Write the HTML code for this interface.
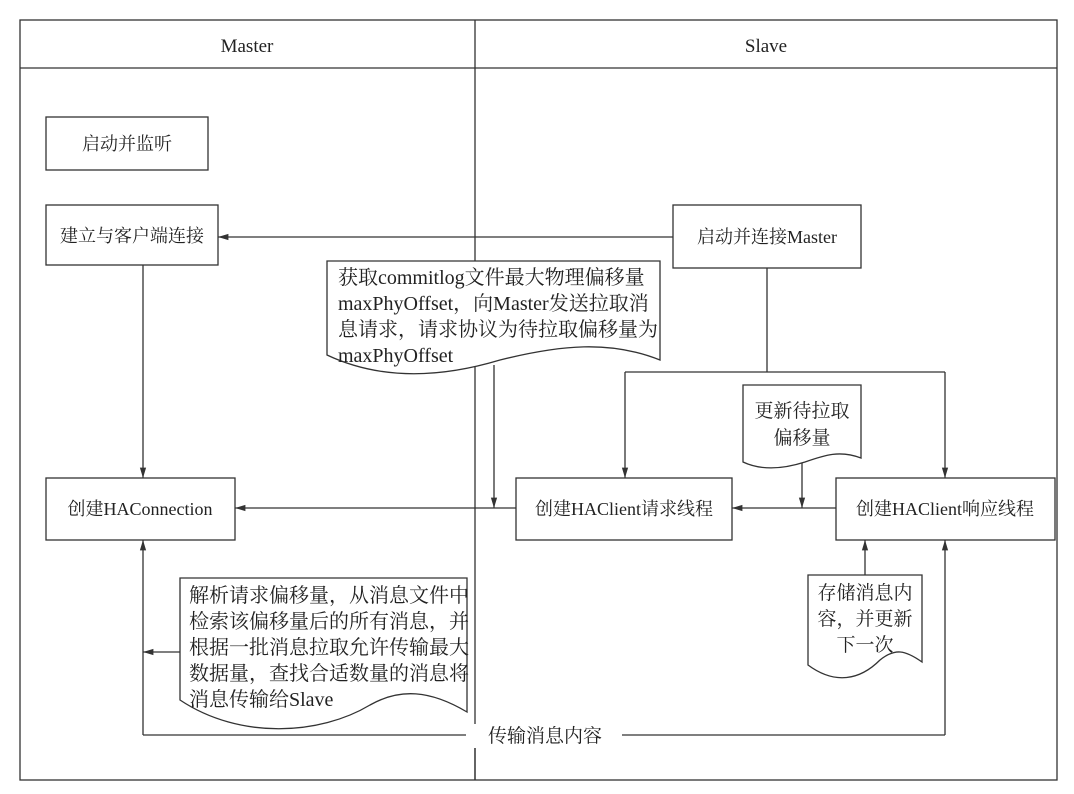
<!DOCTYPE html>
<html><head><meta charset="utf-8"><style>
html,body{margin:0;padding:0;background:#fff;}
svg{display:block;}
text{font-family:"Liberation Serif","Noto Serif CJK SC","Noto Sans CJK SC",serif;font-size:18px;fill:#222;}
.d{font-size:20px;}
.s{font-size:19px;}
</style></head><body>
<svg width="1074" height="794" viewBox="0 0 1074 794" xmlns="http://www.w3.org/2000/svg">
<defs><marker id="a" viewBox="0 0 10 10" refX="10" refY="5" markerWidth="8" markerHeight="8" orient="auto-start-reverse"><path d="M0,2 L10,5 L0,8 z" fill="#333"/></marker></defs>
<g stroke="#333" stroke-width="1.3" fill="none">
<rect x="20" y="20" width="1037" height="760"/>
<line x1="20" y1="68" x2="1057" y2="68"/>
<line x1="475" y1="20" x2="475" y2="780"/>
<rect x="46" y="117" width="162" height="53"/>
<rect x="46" y="205" width="172" height="60"/>
<rect x="673" y="205" width="188" height="63"/>
<rect x="46" y="478" width="189" height="62"/>
<rect x="516" y="478" width="216" height="62"/>
<rect x="836" y="478" width="219" height="62"/>
<path d="M327,261 H660 V360 C610,340 560,345 500,360 C440,378 380,380 327,355 Z" fill="#fff"/>
<path d="M743,385 H861 V458 C840,450 825,455 805,462 C780,470 760,470 743,462 Z" fill="#fff"/>
<path d="M180,578 H467 V712 C430,690 400,688 370,705 C320,735 240,740 180,700 Z" fill="#fff"/>
<path d="M808,575 H922 V662 C905,650 895,648 880,660 C860,680 835,685 808,665 Z" fill="#fff"/>
<line x1="673" y1="237" x2="218" y2="237" marker-end="url(#a)"/>
<line x1="143" y1="265" x2="143" y2="478" marker-end="url(#a)"/>
<line x1="767" y1="268" x2="767" y2="372"/>
<line x1="625" y1="372" x2="945" y2="372"/>
<line x1="625" y1="372" x2="625" y2="478" marker-end="url(#a)"/>
<line x1="945" y1="372" x2="945" y2="478" marker-end="url(#a)"/>
<line x1="836" y1="508" x2="732" y2="508" marker-end="url(#a)"/>
<line x1="802" y1="463" x2="802" y2="508" marker-end="url(#a)"/>
<line x1="516" y1="508" x2="235" y2="508" marker-end="url(#a)"/>
<line x1="494" y1="365" x2="494" y2="508" marker-end="url(#a)"/>
<line x1="865" y1="575" x2="865" y2="540" marker-end="url(#a)"/>
<line x1="945" y1="735" x2="945" y2="540" marker-end="url(#a)"/>
<line x1="143" y1="735" x2="143" y2="540" marker-end="url(#a)"/>
<line x1="180" y1="652" x2="143" y2="652" marker-end="url(#a)"/>
<line x1="143" y1="735" x2="466" y2="735"/>
<line x1="622" y1="735" x2="945" y2="735"/>
</g>
<text x="247" y="52" text-anchor="middle" class="s">Master</text>
<text x="766" y="52" text-anchor="middle" class="s">Slave</text>
<text x="127" y="150" text-anchor="middle">启动并监听</text>
<text x="132" y="242" text-anchor="middle">建立与客户端连接</text>
<text x="767" y="243" text-anchor="middle">启动并连接Master</text>
<text x="140" y="515" text-anchor="middle">创建HAConnection</text>
<text x="624" y="515" text-anchor="middle">创建HAClient请求线程</text>
<text x="945" y="515" text-anchor="middle">创建HAClient响应线程</text>
<text class="d" x="338" y="284">获取commitlog文件最大物理偏移量</text>
<text class="d" x="338" y="310">maxPhyOffset，向Master发送拉取消</text>
<text class="d" x="338" y="336">息请求，请求协议为待拉取偏移量为</text>
<text class="d" x="338" y="362">maxPhyOffset</text>
<text class="s" x="802" y="417" text-anchor="middle">更新待拉取</text>
<text class="s" x="802" y="444" text-anchor="middle">偏移量</text>
<text class="d" x="189" y="602">解析请求偏移量，从消息文件中</text>
<text class="d" x="189" y="628">检索该偏移量后的所有消息，并</text>
<text class="d" x="189" y="654">根据一批消息拉取允许传输最大</text>
<text class="d" x="189" y="680">数据量，查找合适数量的消息将</text>
<text class="d" x="189" y="706">消息传输给Slave</text>
<text class="s" x="865" y="599" text-anchor="middle">存储消息内</text>
<text class="s" x="865" y="625" text-anchor="middle">容，并更新</text>
<text class="s" x="865" y="651" text-anchor="middle">下一次</text>
<rect x="470" y="724" width="150" height="24" fill="#fff"/>
<line x1="475" y1="748" x2="475" y2="780" stroke="#333" stroke-width="1.3"/>
<text x="545" y="742" text-anchor="middle" class="s">传输消息内容</text>
</svg>
</body></html>
